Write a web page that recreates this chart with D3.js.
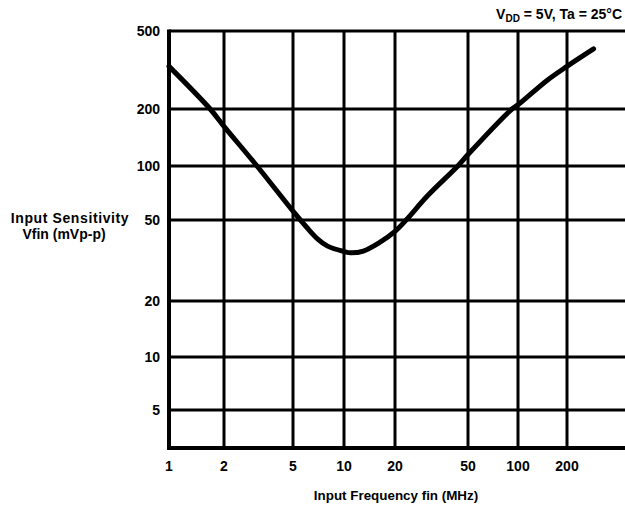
<!DOCTYPE html>
<html>
<head>
<meta charset="utf-8">
<script src="https://cdn.jsdelivr.net/npm/d3@7"></script>
<style>
  html, body { margin: 0; padding: 0; background: #fff; }
  svg { display: block; }
  text { font-family: "Liberation Sans", Arial, Helvetica, sans-serif; font-weight: bold; fill: #000; }
</style>
</head>
<body>
<svg id="chart" width="625" height="511"></svg>
<script>
// ---- data ----
const freqTicks = [1, 2, 5, 10, 20, 50, 100, 200];
const sensTicks = [5, 10, 20, 50, 100, 200, 500];
const freqMHz = [1, 1.68, 2, 3.1, 5, 6, 7, 8, 10, 11, 13, 16, 20, 23, 30, 44, 50, 92, 100, 150, 200, 290];
const sensmV  = [330, 200, 162, 100, 56, 46.2, 40.3, 37.2, 35, 34.5, 35.2, 38.5, 44, 50, 68, 100, 115, 200, 210, 279, 330, 405];
const xTitle = "Input Frequency fin (MHz)";
const yTitle = ["Input Sensitivity", "Vfin (mVp-p)"];

// ---- scales (scanned grid is slightly uneven: piecewise log scales) ----
const x = d3.scaleLog()
  .domain([1, 2, 5, 10, 20, 50, 100, 200, 450])
  .range([169, 224, 293, 344, 395, 468, 518, 567, 625]);
const y = d3.scaleLog()
  .domain([3, 5, 10, 20, 50, 100, 200, 500])
  .range([448, 410, 357, 301, 220, 166, 109, 31]);

const svg = d3.select("#chart");
const [x0, x1] = [x(1), x(450)];
const [yb, yt] = [y(3), y(500)];

// grid
svg.append("g").selectAll("line").data(freqTicks.slice(1)).join("line")
  .attr("x1", d => x(d)).attr("x2", d => x(d))
  .attr("y1", yt).attr("y2", yb)
  .attr("stroke", "#000").attr("stroke-width", 3);
svg.append("g").selectAll("line").data(sensTicks.slice(0, -1)).join("line")
  .attr("x1", x0).attr("x2", x1)
  .attr("y1", d => y(d)).attr("y2", d => y(d))
  .attr("stroke", "#000").attr("stroke-width", 3);
// top border (500)
svg.append("line").attr("x1", x0).attr("x2", x1).attr("y1", yt).attr("y2", yt)
  .attr("stroke", "#000").attr("stroke-width", 3);
// axes lines
svg.append("line").attr("x1", x0).attr("x2", x0).attr("y1", yt - 1.5).attr("y2", yb + 2)
  .attr("stroke", "#000").attr("stroke-width", 4);
svg.append("line").attr("x1", x0 - 2).attr("x2", x1).attr("y1", yb).attr("y2", yb)
  .attr("stroke", "#000").attr("stroke-width", 4);

// tick labels
svg.append("g").selectAll("text").data(sensTicks).join("text")
  .attr("x", 160).attr("y", d => y(d)).attr("dy", "0.36em")
  .attr("text-anchor", "end").attr("font-size", 14)
  .text(d => d);
svg.append("g").selectAll("text").data(freqTicks).join("text")
  .attr("x", d => x(d)).attr("y", 471)
  .attr("text-anchor", "middle").attr("font-size", 14)
  .text(d => d);

// axis titles
svg.append("text").attr("x", 396).attr("y", 500).attr("text-anchor", "middle")
  .attr("font-size", 13.4).text(xTitle);
svg.append("text").attr("x", 70).attr("y", 223).attr("text-anchor", "middle")
  .attr("font-size", 14).attr("letter-spacing", 0.6).text(yTitle[0]);
svg.append("text").attr("x", 64).attr("y", 239).attr("text-anchor", "middle")
  .attr("font-size", 14).text(yTitle[1]);

// condition note
const note = svg.append("text").attr("x", 622).attr("y", 19).attr("text-anchor", "end").attr("font-size", 14);
note.append("tspan").text("V");
note.append("tspan").attr("font-size", 10).attr("dy", 3).text("DD");
note.append("tspan").attr("dy", -3).text(" = 5V, Ta = 25°C");

// curve
const pts = freqMHz.map((f, i) => [x(f), y(sensmV[i])]);
svg.append("path").datum(pts)
  .attr("d", d3.line().curve(d3.curveCatmullRom.alpha(0.5)))
  .attr("fill", "none").attr("stroke", "#000").attr("stroke-width", 5)
  .attr("stroke-linecap", "round").attr("stroke-linejoin", "round");
</script>
</body>
</html>
